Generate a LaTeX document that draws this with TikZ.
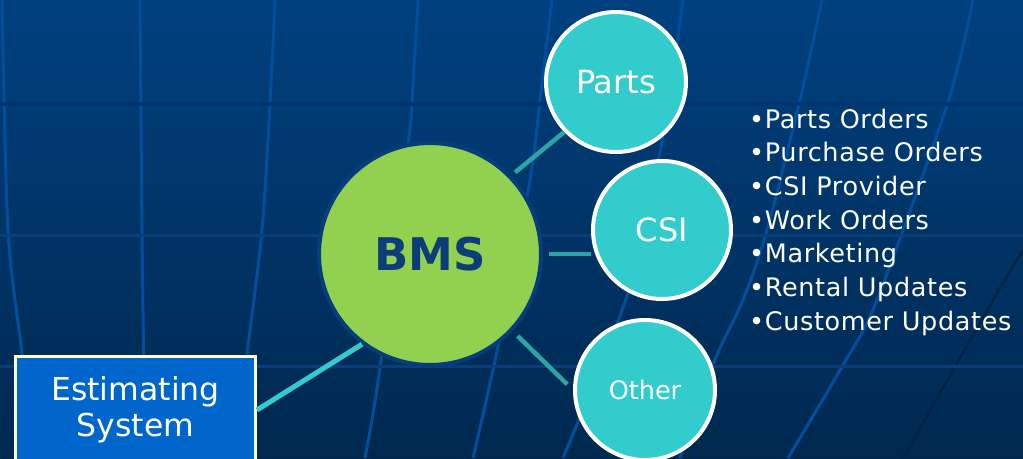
\documentclass[tikz,border=0pt]{standalone}
\usepackage{fontspec}
\setmainfont{DejaVu Sans}
\newfontfamily\listfont[LetterSpace=2.5]{DejaVu Sans}
\usetikzlibrary{positioning}
\definecolor{bgtop}{HTML}{00407F}
\definecolor{bgbot}{HTML}{00284F}
\definecolor{gridblue}{HTML}{004F9C}
\definecolor{gridrow}{HTML}{0B3E79}
\definecolor{gridgap}{HTML}{00366F}
\definecolor{hubgreen}{HTML}{92D050}
\definecolor{hubtext}{HTML}{0B3D78}
\definecolor{hubedge}{HTML}{063E7C}
\definecolor{spokecyan}{HTML}{33CCCC}
\definecolor{linkteal}{HTML}{2AA5A5}
\definecolor{boxblue}{HTML}{0066CC}
\definecolor{boxedge}{HTML}{FFFFCC}
\tikzset{
gridline/.style={draw=gridblue, line width=3pt},
gridrow/.style={draw=gridrow, line width=3pt},
hub/.style={
  circle,
  fill=hubgreen,
  draw=hubedge,
  line width=4pt,
  minimum size=222pt,
  inner sep=0pt,
  text=hubtext,
  font=\fontsize{45}{54}\selectfont\bfseries
  },
spoke/.style={
  circle,
  fill=spokecyan,
  draw=white,
  line width=4pt,
  minimum size=140pt,
  inner sep=0pt,
  text=white,
  font=\fontsize{32}{38}\selectfont
  },
link/.style={draw=linkteal, line width=4.5pt},
srcbox/.style={
  rectangle,
  fill=boxblue,
  draw=boxedge,
  line width=3pt,
  minimum width=240pt,
  minimum height=107pt,
  align=center,
  text=white,
  font=\fontsize{31.5}{36}\selectfont
  },
item/.style={anchor=base west, inner sep=0pt, text=white,
  font=\listfont\fontsize{25.5}{30}\selectfont}
}

\begin{document}
\begin{tikzpicture}[x=1pt,y=-1pt]
\useasboundingbox (0,0) rectangle (1023,458);
\clip (0,0) rectangle (1023,458);

% backdrop
\shade[top color=bgtop, bottom color=bgbot] (0,0) rectangle (1023,458);
\draw[gridline] plot[smooth] coordinates {(2,0) (8,230) (22,355) (30,458)};
\draw[gridline] plot[smooth] coordinates {(140,0) (142,230) (145,458)};
\draw[gridline] plot[smooth] coordinates {(275,0) (270,102) (262,230) (247,355) (236,458)};
\draw[gridline] plot[smooth] coordinates {(418,0) (412,102) (409,137) (380,368) (365,458)};
\draw[gridline] plot[smooth] coordinates {(552,0) (540,100) (530,180) (497,351) (473,458)};
\draw[gridline] plot[smooth] coordinates {(683,0) (660,153) (628,293) (563,458)};
\draw[gridline] plot[smooth] coordinates {(822,0) (800,100) (767,230) (743,300) (713,364) (680,458)};
\draw[gridline] plot[smooth] coordinates {(973,0) (948,102) (877,300) (843,365) (788,458)};
\draw[draw=bgbot!85!black, line width=2.5pt] plot[smooth] coordinates {(1023,250) (993,300) (903,458)};
\draw[draw=gridgap, line width=4pt] (0,104) -- (1023,104);
\draw[gridrow] (0,235) -- (1023,235);
\draw[gridrow] (0,366) -- (1023,366);

% hub and spokes
\node[hub] (bms) at (430,254) {BMS};
\node[spoke] (parts) at (616,82) {Parts};
\node[spoke, minimum size=138pt] (csi) at (662,230) {CSI};
\node[spoke, font=\fontsize{25.5}{30}\selectfont] (other) at (645,390) {Other};
\node[srcbox] (est) at (135.5,410) {Estimating\\System};

\draw[link, shorten <=5pt] (bms.44) -- (parts.224);
\draw[link, shorten <=6pt] (bms.east) -- (bms.east -| csi.west);
\draw[link, shorten <=7pt, shorten >=8pt] (bms.-43) -- (other.west);
\draw[link, draw=spokecyan, line width=5pt] (est.east) -- (bms.233);

% list of messages
\foreach \txt [count=\i] in {Parts Orders, Purchase Orders, CSI Provider,
    Work Orders, Marketing, Rental Updates, Customer Updates}
  \node[item] (msg\i) at (749,{128+33.7*(\i-1)}) {\textbullet\txt};
\end{tikzpicture}
\end{document}
